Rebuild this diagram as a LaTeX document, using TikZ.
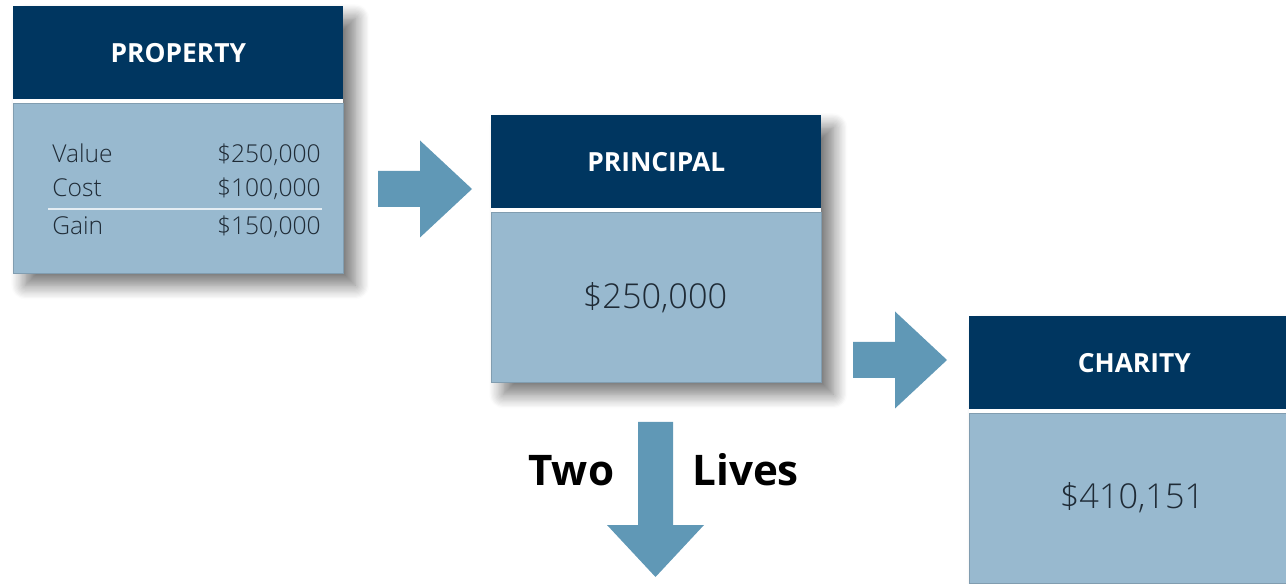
\documentclass[tikz,border=0pt]{standalone}
\usepackage{fontspec}
\setmainfont{Open Sans}
\IfFontExistsTF{Open Sans Light}
  {\newfontfamily\lightfont{Open Sans Light}}
  {\newfontfamily\lightfont{Open Sans}}
\usetikzlibrary{calc,shadows.blur}
\definecolor{navy}{HTML}{003660}
\definecolor{paleblue}{HTML}{98B9CF}
\definecolor{arrowblue}{HTML}{6098B6}
\definecolor{inkgray}{HTML}{1F2B36}
\tikzset{
  headbox/.style={fill=navy, text=white, font=\bfseries\fontsize{15}{18}\selectfont,
    anchor=north west, minimum width=6.6cm, minimum height=1.86cm, inner sep=0pt},
  bodybox/.style={fill=paleblue, draw=paleblue!85!black, line width=0.4pt,
    anchor=north west, minimum width=6.6cm, minimum height=3.4cm, inner sep=0pt},
  cardshadow/.style={blur shadow={shadow xshift=7pt, shadow yshift=-7pt,
    shadow blur radius=8pt, shadow blur steps=12, shadow opacity=55}},
  rowtext/.style={text=inkgray, font=\lightfont\fontsize{14}{17}\selectfont, inner sep=0pt},
  sumtext/.style={text=inkgray, font=\lightfont\fontsize{19.5}{23}\selectfont, inner sep=0pt},
  lifetext/.style={font=\bfseries\fontsize{24}{29}\selectfont, inner sep=0pt},
}
% card: name, top left corner, title
\def\drawCard#1#2#3{
  \fill[white, cardshadow] #2 rectangle ($#2+(330,267)$);
  \node[headbox] (#1Head) at #2 {#3};
  \node[bodybox] (#1Body) at ($#2+(0,97)$) {};
}
% block arrow pointing right, from the middle of its tail
\def\rightArrow#1{
  \fill[arrowblue] #1 ++(0,-18) -- ++(42,0) -- ++(0,-30.5) -- ++(52,48.5)
    -- ++(-52,48.5) -- ++(0,-30.5) -- ++(-42,0) -- cycle;
}
% block arrow pointing down, from the middle of its tail
\def\downArrow#1{
  \fill[arrowblue] #1 ++(-17.5,0) -- ++(0,103) -- ++(-31,0) -- ++(48.5,52)
    -- ++(48.5,-52) -- ++(-31,0) -- ++(0,-103) -- cycle;
}

\begin{document}
\begin{tikzpicture}[x=0.02cm, y=-0.02cm]
  \clip (0,0) rectangle (1286,584);
  \drawCard{prop}{(13,6)}{PROPERTY}
  \drawCard{princ}{(491,115)}{PRINCIPAL}
  \drawCard{char}{(969,316)}{CHARITY}

  % property figures
  \node[rowtext, anchor=base west] (valueLbl) at (52,163) {Value};
  \node[rowtext, anchor=base east] (valueAmt) at (321,163) {\$250,000};
  \node[rowtext, anchor=base west] (costLbl) at (52,197) {Cost};
  \node[rowtext, anchor=base east] (costAmt) at (321,197) {\$100,000};
  \node[rowtext, anchor=base west] (gainLbl) at (52,235) {Gain};
  \node[rowtext, anchor=base east] (gainAmt) at (321,235) {\$150,000};
  \draw[white!75!paleblue, line width=1.2pt] (48,209) -- (322,209);

  \node[sumtext] (princAmt) at (655,298) {\$250,000};
  \node[sumtext] (charAmt) at (1132,498) {\$410,151};

  \rightArrow{(378,189)}
  \rightArrow{(853,360)}
  \downArrow{(655.5,422)}

  \node[lifetext, anchor=base west] (twoLbl) at (528,485) {Two};
  \node[lifetext, anchor=base west] (livesLbl) at (692,485) {Lives};
\end{tikzpicture}
\end{document}
